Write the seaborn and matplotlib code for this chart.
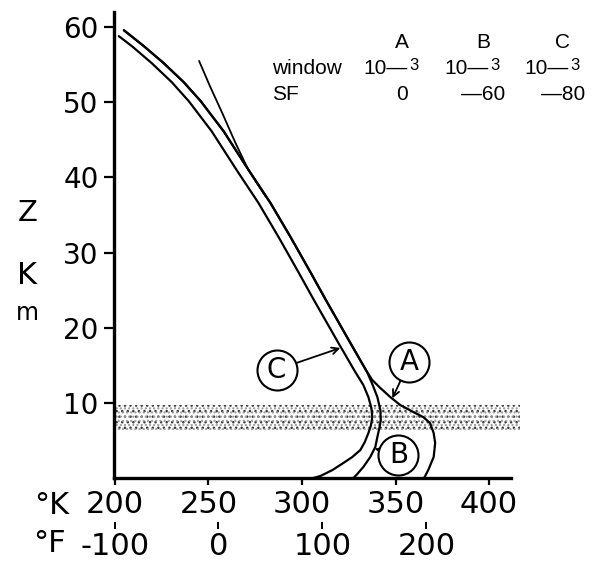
import matplotlib
matplotlib.use("Agg")
import matplotlib.pyplot as plt
import seaborn as sns

# curve C  (window 1e-3, SF -80): temperature K vs altitude km
c_temp = [202.1, 209.1, 219.7, 230.4, 239.5, 251.7, 265.1, 276.8, 287.5, 298.1,
          306.1, 319.5, 328.5, 332.8, 335.5, 337.1, 337.6, 336.8, 335.5, 333.6,
          331.2, 326.9, 322.1, 316.3, 309.9, 306.1]
c_alt = [58.78, 57.45, 55.19, 52.66, 50.13, 46.14, 40.96, 36.57, 32.05, 27.39,
         23.80, 17.95, 14.10, 12.37, 10.77, 9.31, 8.11, 6.91, 5.98, 4.79,
         3.72, 2.79, 1.99, 1.06, 0.27, 0.0]

# upper branch shared by A and B
ab_temp = [204.8, 215.5, 226.1, 236.8, 245.9, 258.1, 271.5, 283.2, 293.9, 304.5,
           312.5, 325.9, 334.8]
ab_alt = [59.57, 57.45, 55.19, 52.66, 50.13, 46.14, 40.96, 36.57, 32.05, 27.39,
          23.80, 17.95, 14.10]

# lower part of A  (window 1e-3, SF 0)
a_temp = [337.6, 341.9, 347.2, 352.5, 359.5, 364.8, 368.5, 370.4, 371.2, 370.4,
          367.5, 365.3]
a_alt = [13.03, 11.97, 10.77, 9.71, 8.78, 8.11, 7.31, 5.98, 4.65, 2.79, 1.06, 0.0]

# lower part of B  (window 1e-3, SF -60)
b_temp = [337.6, 340.3, 341.9, 342.1, 341.5, 340.3, 339.2, 336.5, 332.8, 329.1,
          327.5]
b_alt = [12.5, 10.77, 9.04, 7.71, 6.78, 5.45, 4.12, 2.79, 1.46, 0.40, 0.0]

# tangent line in the upper part, running into the A/B branch
tan_temp = [245.0, 250.7, 257.1, 264.5, 270.9, 276.3, 280.5]
tan_alt = [55.49, 52.19, 48.71, 44.55, 41.22, 39.10, 37.5]

k_ticks = [200, 250, 300, 350, 400]
f_ticks = [-100, 0, 100, 200]
z_ticks = [10, 20, 30, 40, 50, 60]
band_lo, band_hi = 6.4, 9.7

labels = ["C", "A", "B"]
label_temp = [286.4, 357.3, 351.5]
label_alt = [14.4, 15.4, 3.1]
target_temp = [320.5, 348.3, 338.8]
target_alt = [17.3, 10.6, 3.9]

header_cols = ["A", "B", "C"]
sf_vals = ["0", "\u201460", "\u201480"]

sns.set_style("ticks", {"axes.edgecolor": "black", "text.color": "black",
                        "xtick.color": "black", "ytick.color": "black"})
plt.rcParams["axes.unicode_minus"] = False
plt.rcParams["hatch.linewidth"] = 1.0

fig = plt.figure(figsize=(5.98, 5.63), dpi=100)
ax = fig.add_axes([0.1906, 0.1510, 0.6835, 0.8277])

# stippled band: two overlaid dot hatches so the speckle looks less regular
ax.fill_between([199.5, 416.5], band_lo, band_hi, facecolor="none",
                hatch="...", edgecolor="#3a3a3a", linewidth=0, zorder=1)
ax.fill_between([199.5, 416.5], band_lo, band_hi, facecolor="none",
                hatch="....", edgecolor="#9a9a9a", linewidth=0, zorder=1)

line_kw = dict(color="black", linewidth=1.6, sort=False, estimator=None, ax=ax)
sns.lineplot(x=c_temp, y=c_alt, **line_kw)
sns.lineplot(x=ab_temp + a_temp, y=ab_alt + a_alt, **line_kw)
sns.lineplot(x=ab_temp + b_temp, y=ab_alt + b_alt, **line_kw)
sns.lineplot(x=tan_temp, y=tan_alt, color="black", linewidth=1.3,
             sort=False, estimator=None, ax=ax)

# circled labels with arrows
for lab, tx, ty, px, py in zip(labels, label_temp, label_alt, target_temp, target_alt):
    ax.annotate("", xy=(px, py), xytext=(tx, ty),
                arrowprops=dict(arrowstyle="->", color="black", lw=1.3,
                                shrinkA=14.5, shrinkB=0, mutation_scale=12))
sns.scatterplot(x=label_temp, y=label_alt, s=830, marker="o", facecolor="white",
                edgecolor="black", linewidth=1.5, ax=ax, zorder=5)
for lab, tx, ty in zip(labels, label_temp, label_alt):
    ax.text(tx, ty, lab, ha="center", va="center", fontsize=20, zorder=6)

ax.set_xlim(199.5, 418)
ax.set_ylim(0, 62)
sns.despine(ax=ax)
ax.spines["left"].set_linewidth(2.4)
ax.spines["bottom"].set_linewidth(2.4)
ax.spines["bottom"].set_bounds(199.5, 412)

ax.set_yticks(z_ticks)
ax.set_yticklabels([str(v) for v in z_ticks], fontsize=20)
ax.tick_params(axis="y", length=7, width=1.6, pad=4)
ax.set_xticks(k_ticks)
ax.set_xticklabels([str(v) for v in k_ticks], fontsize=22)
ax.tick_params(axis="x", length=5, width=1.6, pad=4)
ax.set_xlabel("")
ax.set_ylabel("")

# Fahrenheit scale under the Kelvin one
sec = ax.secondary_xaxis(-0.094, functions=(lambda k: (k - 273.15) * 1.8 + 32,
                                            lambda f: (f - 32) / 1.8 + 273.15))
sec.set_xticks(f_ticks)
sec.set_xticklabels([str(v) for v in f_ticks], fontsize=22)
sec.spines["bottom"].set_visible(False)
sec.tick_params(axis="x", length=5, width=1.4, pad=2)

fig.text(52 / 598, 1 - 506 / 563, "\u00b0K", fontsize=22, ha="center", va="center")
fig.text(49 / 598, 1 - 544 / 563, "\u00b0F", fontsize=22, ha="center", va="center")
fig.text(28 / 598, 1 - 213 / 563, "Z", fontsize=21, ha="center", va="center")
fig.text(27 / 598, 1 - 275 / 563, "K", fontsize=22, ha="center", va="center")
fig.text(27 / 598, 1 - 313 / 563, "m", fontsize=17, ha="center", va="center")

# header table
hfont = dict(family="Liberation Sans", fontsize=15, va="center")
col_x = [402, 483, 563]
for lab, cx, sf in zip(header_cols, col_x, sf_vals):
    fig.text(cx / 598, 1 - 42 / 563, lab, ha="center", **hfont)
    fig.text((cx + 6) / 598, 1 - 68 / 563, "10\u2014", ha="right", **hfont)
    fig.text((cx + 7) / 598, 1 - 65 / 563, "3", ha="left",
             family="Liberation Sans", fontsize=12, va="center")
    fig.text(cx / 598, 1 - 95 / 563, sf, ha="center", **hfont)
fig.text(272 / 598, 1 - 68 / 563, "window", ha="left", **hfont)
fig.text(272 / 598, 1 - 95 / 563, "SF", ha="left", **hfont)

fig.savefig("out.png", dpi=100)
